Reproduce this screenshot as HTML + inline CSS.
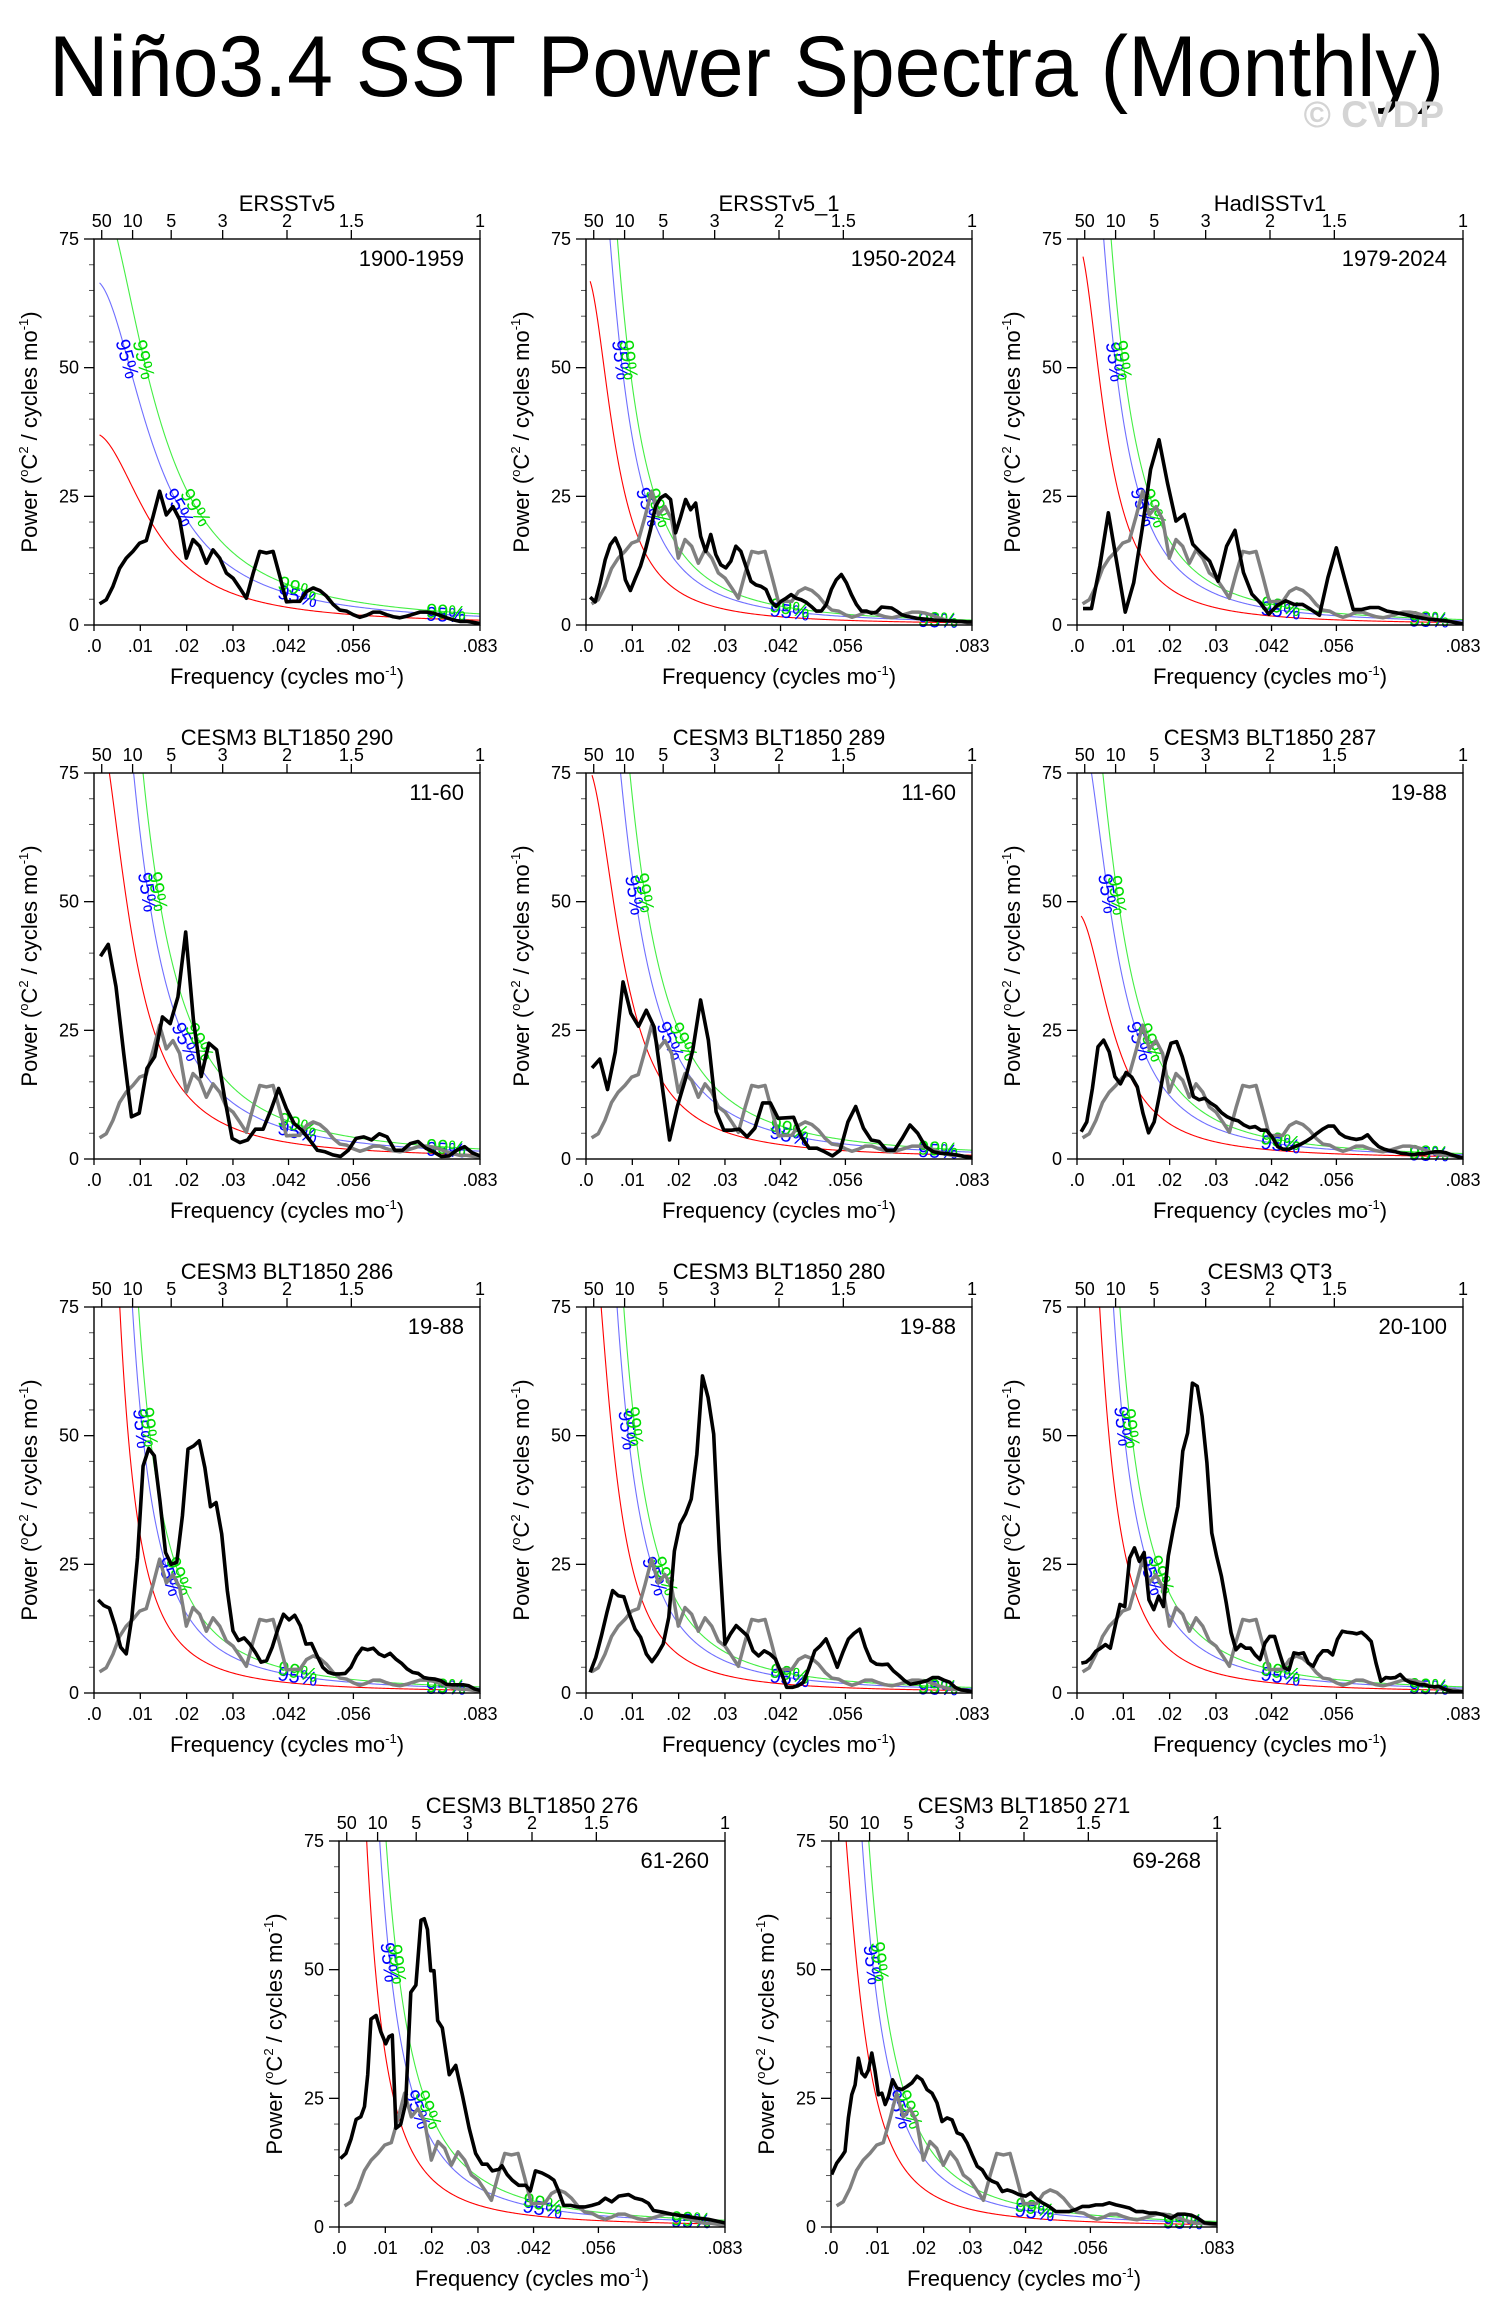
<!DOCTYPE html>
<html><head><meta charset="utf-8"><title>Niño3.4 SST Power Spectra</title>
<style>
html,body{margin:0;padding:0;background:#fff;}
svg{display:block;font-family:"Liberation Sans",Arial,sans-serif;}
</style></head>
<body>
<svg id="fig" width="1494" height="2321" viewBox="0 0 1494 2321" xmlns="http://www.w3.org/2000/svg">
<rect x="0" y="0" width="1494" height="2321" fill="#fff"/>
<text x="49" y="96" font-size="86" textLength="1395" lengthAdjust="spacingAndGlyphs" fill="#000">Niño3.4 SST Power Spectra (Monthly)</text>
<text x="1444" y="127" font-size="37" font-weight="bold" text-anchor="end" fill="#d4d4d4">© CVDP</text>
</svg>
<script>
// ---------- axis definitions ----------
const topPeriods = [50, 10, 5, 3, 2, 1.5, 1];
const xTickVals = [0, 0.01, 0.02, 0.03, 0.042, 0.056, 0.08333];
const xTickLabels = [".0", ".01", ".02", ".03", ".042", ".056", ".083"];
const yTickVals = [0, 25, 50, 75];
const yMinorVals = [5,10,15,20,30,35,40,45,55,60,65,70];

// ---------- panel metadata ----------
const panelTitles = ["ERSSTv5","ERSSTv5_1","HadISSTv1","CESM3 BLT1850 290","CESM3 BLT1850 289","CESM3 BLT1850 287","CESM3 BLT1850 286","CESM3 BLT1850 280","CESM3 QT3","CESM3 BLT1850 276","CESM3 BLT1850 271"];
const panelYears = ["1900-1959","1950-2024","1979-2024","11-60","11-60","19-88","19-88","19-88","20-100","61-260","69-268"];
// red-noise fit: lag-1 autocorrelation and value at f=0.042
const redR = [0.92, 0.96, 0.96, 0.95, 0.95, 0.95, 0.975, 0.965, 0.97, 0.975, 0.965];
const red042 = [3.4, 1.6, 1.75, 3.2, 2.8, 1.75, 2.0, 1.8, 2.0, 2.2, 1.8];
const sig95 = 1.8;
const sig99 = 2.3;
// first frequency of each spectrum (cycles/mo)
const seriesF0 = [0.0012, 0.0009, 0.0013, 0.0014, 0.0013, 0.0009, 0.0009, 0.0009, 0.00093, 0.0003, 0.00015];

// ---------- spectra (evenly spaced from f0 to 1/12 unless freq array given) ----------
const specERSST = [4.1,4.9,7.5,11,13,14.3,15.9,16.4,21,26,21.4,23,20.5,13,16.6,15.3,12,14.6,13,10.1,9.1,7.2,5.2,10,14.3,14,14.3,9.5,4.5,4.6,4.6,6.5,7.2,6.7,5.6,4,2.9,2.7,2.0,1.5,1.9,2.5,2.5,2.0,1.6,1.4,1.7,2.1,2.5,2.5,2.3,1.9,1.4,1.0,0.7,0.7,0.5,0.3];
const specERSST1 = [5.4,4.5,8.2,12.7,15.6,16.9,14.6,8.8,6.7,9.1,11.4,14.6,18.5,23,24.7,25.3,24.4,17.9,21,24.4,22.4,23.7,17.2,14.3,17.6,13.7,11.7,11.1,12.4,15.3,14.3,11.4,8.5,7.8,7.5,6.9,4.6,3.6,4.6,5.2,5.9,5.2,4.9,4.4,3.6,2.7,2.7,4,6.9,8.8,9.8,8.2,5.9,4,2.7,2.7,2.3,2.5,3.5,3.4,3.3,2.7,2,1.7,1.5,1.3,1.2,1.1,1.0,0.9,0.9,0.8,0.8,0.7,0.7,0.6,0.6];
const specHad = [3.2,3.2,11.5,21.8,12.1,2.5,8.2,18.6,30.2,36,27.6,20.2,21.5,15.7,14,12.4,8.5,15.3,18.4,10.2,6,4.3,2.1,3.8,4.7,4,4,3,1.9,9.2,15,8.9,3,3,3.4,3.4,2.7,2.4,2.1,1.7,1.4,1.1,1,0.8,0.5,0.2];
const spec290 = [39.4,41.7,33.5,20.5,8.2,8.9,17.6,19.9,27.6,26.3,31.5,44.1,27,16,22.5,21.2,12.1,4,3.2,3.7,5.8,5.8,9.5,13.7,9.8,6.9,5.6,3.7,1.7,1.4,0.8,0.5,1.7,4,4.3,3.7,4.9,4.3,1.7,1.7,3,3.4,2.1,1.4,0.5,0.6,1.7,2.4,1.2,0.6];
const spec289 = [17.7,19.4,13.5,20.8,34.4,28.3,25.8,28.9,25.7,14.7,3.7,10.2,15.3,21.2,30.9,23.1,9.2,5.6,5.6,5.8,4.3,6,10.9,10.9,7.9,8,8.1,4.3,2.1,2.1,1.4,0.6,1.7,7.2,10.2,6,3.7,3.4,1.7,1.7,4,6.6,5,2.4,1.4,1.1,1,0.8,0.5,0.3];
const spec287 = [5.3,7.2,13.7,21.8,23.1,20.8,16,14.6,16.8,15.9,14,8.9,5.1,7.2,12.7,18.9,22.5,22.8,19.9,16,12.1,11.5,11.8,10.9,10.2,9,8.2,7.7,7.4,6.6,6.1,6.3,5.6,5.6,4.3,2.4,1.9,1.9,2.4,2.8,3.4,4.1,5,5.8,6.4,6.4,5,4.3,4,3.8,4,4.7,3.4,2.4,1.9,1.6,1.4,1.1,1,0.8,1,1,1.2,1.4,1.4,1.2,0.8,0.5,0.2];
const spec286 = [18.1,17,16.5,13.1,8.9,7.6,14.7,26.3,44.1,47.5,46.1,37.3,27.3,25,25.4,34.4,47.4,48,49,43.8,36.2,37,30.9,19.9,12.1,10.2,10.7,9.5,7.9,6,6.3,8.9,12.4,15.3,14.2,15.1,13.1,9.5,9.6,7.2,5,4,3.7,3.7,3.8,5,7.2,8.7,8.4,8.7,7.6,7.1,7.7,6.6,5.8,4.7,4,3.8,3,2.8,2.7,2.4,1.7,1.6,1.6,1.6,1.4,0.8,0.5];
const spec280 = [4,6.9,11.1,15.7,19.9,18.9,18.7,15.3,12.4,10.8,7.6,6.1,7.6,9.5,14.7,27.6,32.8,34.8,37.7,46.4,61.6,57.4,50.3,27.6,9.5,11.5,13.1,12.1,11.1,8.2,7.2,8.2,7.6,6.6,4,1.1,1.1,1.4,2.1,5,8.2,9.2,10.5,7.9,5,7.9,10.5,11.6,12.4,8.9,6.3,5.6,5.5,5.6,4.3,3.4,2.4,1.7,1.9,2.1,2.4,3,3,2.5,2.1,1.1,0.6,0.5,0.3];
const specQT3 = [5.8,6,6.8,8.1,8.7,9.4,8.7,13,17.2,16.8,26.2,28.2,25.6,27.3,18.1,16.2,18.8,16.8,26.6,31.7,36.3,47,50.5,60.2,59.6,53.8,44.7,31.1,26.6,22.7,17.5,11.7,8.4,9.4,8.7,8.7,7.4,6.5,9.7,11,11,7.8,4.9,4.5,7.8,7.6,7.8,5.8,5.2,7.1,8.2,8.2,7.4,10.4,12,11.8,11.7,11.5,11.8,11,10,5.8,2.3,3,2.9,3,3.6,2.6,2.1,1.9,1.6,1.6,1.3,1.2,1.3,0.8,0.5,0.3,0.3,0.3];
const freq276 = [0.0003,0.0015,0.0026,0.0037,0.0047,0.0055,0.0062,0.0069,0.0080,0.0090,0.0101,0.0108,0.0115,0.0123,0.0133,0.0144,0.0155,0.0166,0.0177,0.0184,0.0191,0.0198,0.0205,0.0213,0.0223,0.0238,0.0252,0.0266,0.0281,0.0295,0.0309,0.0320,0.0331,0.0345,0.0352,0.0363,0.0374,0.0388,0.0403,0.0413,0.0424,0.0438,0.0453,0.0464,0.0474,0.0485,0.0500,0.0514,0.0532,0.0546,0.0561,0.0575,0.0589,0.0604,0.0625,0.0639,0.0654,0.0668,0.0679,0.0697,0.0718,0.0740,0.0769,0.0797,0.0833];
const spec276 = [13.3,14.3,17.1,20.9,21.4,23.4,29.6,40.4,41.1,38,35.6,37,37.3,19.2,19.9,24.1,45.6,47,59.6,59.9,57.8,49.8,49.8,40.1,38.7,29.6,31.4,25.8,19.2,14.3,12.2,12.2,10.9,11.2,11.9,10.2,9.1,8.1,8.1,7,10.9,10.5,9.8,9.1,7,4.2,4.2,3.9,3.9,4.2,4.6,5.6,4.9,6,6.3,5.6,5.3,4.6,3.2,2.9,2.5,2.2,1.8,1.5,0.8];
const freq271 = [0.00014,0.00123,0.00231,0.00303,0.00375,0.00448,0.0052,0.00592,0.00664,0.00736,0.00809,0.00881,0.00953,0.01025,0.01098,0.0117,0.01242,0.01329,0.01423,0.01531,0.01639,0.01747,0.01856,0.01964,0.02072,0.02181,0.02289,0.02397,0.02506,0.02614,0.02722,0.02831,0.02939,0.03047,0.03156,0.03264,0.03372,0.03481,0.03589,0.03697,0.03805,0.03914,0.04058,0.04203,0.04311,0.04419,0.04564,0.04708,0.04853,0.04997,0.05141,0.05286,0.0543,0.05575,0.05719,0.05863,0.06008,0.06152,0.06297,0.06441,0.06586,0.0673,0.06874,0.07019,0.07163,0.07344,0.07488,0.07633,0.07777,0.07921,0.08066,0.08333];
const spec271 = [10.2,12.4,13.7,14.7,21.2,25.7,27.6,32.8,29.9,29.2,30.5,33.8,30.2,25.7,26,23.8,25.4,28.6,27,26.7,27.3,28,29.3,28.6,26.7,26,24.1,20.5,21.2,20.8,18.3,17.9,16.3,14,11.8,11.1,9.5,8.9,8.5,6.9,7.2,6.9,6.3,6,6.6,5.6,4.7,4,3,3,3,3.4,4,4,4.3,4.3,4.7,4.3,4,3.7,3,3,2.7,2.7,2.4,1.7,2.5,2.5,2.3,1.7,0.8,0.6];

const panelSpectra = [specERSST, specERSST1, specHad, spec290, spec289, spec287, spec286, spec280, specQT3, spec276, spec271];
const panelFreqs = [null, null, null, null, null, null, null, null, null, freq276, freq271];

// ---------- layout (pixels) ----------
const panelLeft = [94, 586, 1077, 94, 586, 1077, 94, 586, 1077, 339, 831];
const panelTop = [239, 239, 239, 773, 773, 773, 1307, 1307, 1307, 1841, 1841];
const PW = 386, PH = 386;
const F_MAX = 1/12, Y_MAX = 75;

const NS = "http://www.w3.org/2000/svg";
const svg = document.getElementById("fig");
function mk(tag, attrs, parent) {
  const e = document.createElementNS(NS, tag);
  for (const k in attrs) e.setAttribute(k, attrs[k]);
  (parent || svg).appendChild(e);
  return e;
}
function freqsFor(i) {
  if (panelFreqs[i]) return panelFreqs[i];
  const v = panelSpectra[i], n = v.length, f0 = seriesF0[i], out = [];
  for (let k = 0; k < n; k++) out.push(f0 + (F_MAX - f0) * k / (n - 1));
  return out;
}
function redNoise(i, f) {
  const r = redR[i];
  const d042 = 1 + r*r - 2*r*Math.cos(2*Math.PI*0.042);
  return red042[i] * d042 / (1 + r*r - 2*r*Math.cos(2*Math.PI*f));
}

for (let i = 0; i < panelTitles.length; i++) {
  const L = panelLeft[i], T = panelTop[i], B = T + PH, R = L + PW;
  const xs = f => L + f / F_MAX * PW;
  const ys = v => B - v / Y_MAX * PH;
  const g = mk("g", {});
  
  

  const cp = mk("clipPath", {id: "clip" + i}, g);
  mk("rect", {x: L, y: T, width: PW, height: PH}, cp);

  const tt = mk("text", {x: L + PW/2, y: T - 28, "font-size": 22, "text-anchor": "middle"}, g);
  tt.textContent = panelTitles[i];
  
  

  const yr = mk("text", {x: R - 16, y: T + 27, "font-size": 22, "text-anchor": "end"}, g);
  yr.textContent = panelYears[i];
  
  

  topPeriods.forEach(p => {
    const x = xs(1/(12*p));
    const tk = mk("line", {x1: x, x2: x, y1: T, y2: T - 9, stroke: "#000", "stroke-width": 1.3}, g);
    
    
    const tl = mk("text", {x: x, y: T - 12, "font-size": 18, "text-anchor": "middle"}, g);
    tl.textContent = String(p);
    
    
  });

  xTickVals.forEach((f, k) => {
    const x = xs(f);
    const tk = mk("line", {x1: x, x2: x, y1: B, y2: B + 6, stroke: "#000", "stroke-width": 1.3}, g);
    
    
    const tl = mk("text", {x: x, y: B + 27, "font-size": 18, "text-anchor": "middle"}, g);
    tl.textContent = xTickLabels[k];
    
    
  });

  yTickVals.forEach(v => {
    const y = ys(v);
    const tk = mk("line", {x1: L - 10, x2: L, y1: y, y2: y, stroke: "#000", "stroke-width": 1.3}, g);
    
    
    const tl = mk("text", {x: L - 15, y: y + 6, "font-size": 18, "text-anchor": "end"}, g);
    tl.textContent = String(v);
    
    
  });
  yMinorVals.forEach(v => {
    const y = ys(v);
    const tk = mk("line", {x1: L - 5, x2: L, y1: y, y2: y, stroke: "#555", "stroke-width": 1}, g);
    
    
  });

  const xt = mk("text", {x: L + PW/2, y: B + 59, "font-size": 22, "text-anchor": "middle"}, g);
  xt.innerHTML = 'Frequency (cycles mo<tspan dy="-9" font-size="13">-1</tspan><tspan dy="9">)</tspan>';
  
  
  const yt = mk("text", {transform: "translate(" + (L - 57) + "," + (T + PH/2) + ") rotate(-90)", "font-size": 22, "text-anchor": "middle"}, g);
  yt.innerHTML = 'Power (<tspan dy="-9" font-size="13">o</tspan><tspan dy="9">C</tspan><tspan dy="-9" font-size="13">2</tspan><tspan dy="9"> / cycles mo</tspan><tspan dy="-9" font-size="13">-1</tspan><tspan dy="9">)</tspan>';
  
  

  const f0 = seriesF0[i];
  const sigDefs = [[1, "#ff0000", "red-noise-curve"], [sig95, "#6f6fff", "sig95-curve"], [sig99, "#44ee44", "sig99-curve"]];
  sigDefs.forEach(sd => {
    let d = "";
    for (let k = 0; k <= 300; k++) {
      const f = f0 + (F_MAX - f0) * k / 300;
      const v = Math.min(redNoise(i, f) * sd[0], 90);
      d += (k ? "L" : "M") + xs(f).toFixed(2) + "," + ys(v).toFixed(2);
    }
    const p = mk("path", {d: d, fill: "none", stroke: sd[1], "stroke-width": 1.1, "clip-path": "url(#clip" + i + ")"}, g);
    
    
  });

  [[sig95, "#0000ff", "95%"], [sig99, "#00dd00", "99%"]].forEach(sl => {
    const fac = sl[0];
    const places = [];
    [52, 23].forEach(target => {
      for (let k = 0; k <= 600; k++) {
        const f = f0 + (F_MAX - f0) * k / 600;
        if (redNoise(i, f) * fac <= target) { places.push(f); break; }
      }
    });
    places.push(0.044, 0.076);
    places.forEach(f => {
      const v = redNoise(i, f) * fac;
      const dv = redNoise(i, f + 0.0005) * fac;
      const ang = Math.atan2(ys(dv) - ys(v), xs(f + 0.0005) - xs(f)) * 180 / Math.PI;
      const x = xs(f), y = ys(v);
      const lb = mk("text", {x: x, y: y + 7, "font-size": 20, fill: sl[1], "text-anchor": "middle", transform: "rotate(" + ang.toFixed(1) + " " + x.toFixed(1) + " " + y.toFixed(1) + ")"}, g);
      lb.textContent = sl[2];
      
      
    });
  });

  if (i > 0) {
    const fr = freqsFor(0), vv = panelSpectra[0];
    let d = "";
    vv.forEach((v, k) => { d += (k ? "L" : "M") + xs(fr[k]).toFixed(2) + "," + ys(v).toFixed(2); });
    const gp = mk("path", {d: d, fill: "none", stroke: "#808080", "stroke-width": 3.5, "stroke-linejoin": "round", "clip-path": "url(#clip" + i + ")"}, g);
    
    
  }

  const fr = freqsFor(i), vv = panelSpectra[i];
  const n = Math.min(fr.length, vv.length);
  let d = "";
  for (let k = 0; k < n; k++) d += (k ? "L" : "M") + xs(fr[k]).toFixed(2) + "," + ys(vv[k]).toFixed(2);
  const bp = mk("path", {d: d, fill: "none", stroke: "#000", "stroke-width": 3.6, "stroke-linejoin": "round", "clip-path": "url(#clip" + i + ")"}, g);
  
  

  const fr2 = mk("rect", {x: L, y: T, width: PW, height: PH, fill: "none", stroke: "#000", "stroke-width": 1.4}, g);
  
  
}
</script>
</body></html>
